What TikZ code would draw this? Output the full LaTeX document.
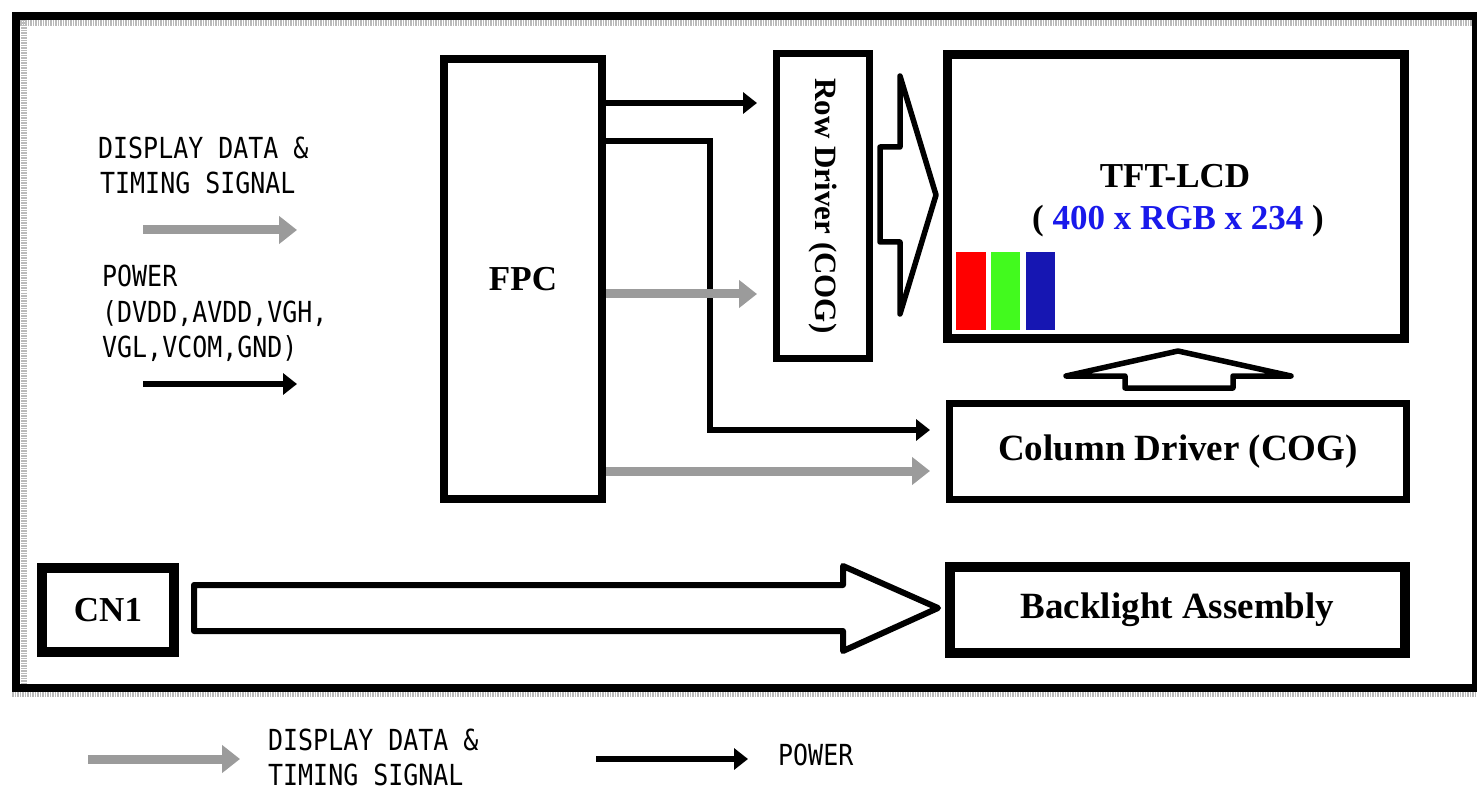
\documentclass[tikz,border=0pt]{standalone}
\usepackage{fontspec}
\usepackage{graphicx}
\setmainfont{Liberation Serif}
\newfontfamily\monolabel{DejaVu Sans Mono}
\usetikzlibrary{arrows.meta}

\definecolor{sigGray}{RGB}{155,155,155}
\definecolor{dimBlue}{RGB}{25,25,235}
\definecolor{barRed}{RGB}{255,0,0}
\definecolor{barGreen}{RGB}{66,250,30}
\definecolor{barBlue}{RGB}{22,22,178}

\newcommand\narrowtxt[1]{\scalebox{0.86}[1]{#1}}

\tikzset{
  sig/.style={draw=sigGray, line width=9pt, -{Triangle[length=18pt,width=27pt]}},
  pwr/.style={draw=black, line width=6pt, -{Triangle[length=14pt,width=21pt]}},
  block/.style={draw, rectangle, inner sep=0pt, fill=white},
  hollow/.style={draw, line width=5.5pt, fill=white, line join=round},
  mono/.style={anchor=base west, inner sep=0pt, font=\monolabel\fontsize{29}{35}\selectfont},
  title/.style={font=\bfseries\fontsize{35}{42}\selectfont},
  wtitle/.style={font=\bfseries\fontsize{37}{44}\selectfont},
}

\begin{document}
\begin{tikzpicture}[x=1pt, y=-1pt]
\useasboundingbox[fill=white] (0,0) rectangle (1477,791);

% outer frame with its grey shading band
\draw[line width=8pt] (16,16) rectangle (1476,688);
\draw[gray!55, line width=6pt, dash pattern=on 1.5pt off 1pt] (20,23) -- (1472,23);
\draw[gray!55, line width=6pt, dash pattern=on 1.5pt off 1pt] (23.5,20) -- (23.5,684);
\draw[gray!55, line width=5pt, dash pattern=on 1.5pt off 1pt] (12,694.5) -- (1477,694.5);

% input labels
\node[mono] (ddA) at (98,159) {\narrowtxt{DISPLAY DATA \&}};
\node[mono] (ddB) at (100,194) {\narrowtxt{TIMING SIGNAL}};
\coordinate (sigA) at (143,230);
\coordinate (sigB) at (297,230);
\draw[sig] (sigA) -- (sigB);
\node[mono] (pwA) at (102,287) {\narrowtxt{POWER}};
\node[mono] (pwB) at (102,323) {\narrowtxt{(DVDD,AVDD,VGH,}};
\node[mono] (pwC) at (102,358) {\narrowtxt{VGL,VCOM,GND)}};
\coordinate (pwrA) at (143,384);
\coordinate (pwrB) at (297,384);
\draw[pwr] (pwrA) -- (pwrB);

% blocks
\node[block, line width=8pt, minimum width=158pt, minimum height=440pt, title] (fpc) at (523,279) {FPC};
\node[block, line width=7pt, minimum width=93pt, minimum height=305pt, font=\bfseries\fontsize{31}{38}\selectfont] (row) at (823,206) {\rotatebox{-90}{Row Driver (COG)}};
\node[block, line width=9pt, minimum width=457pt, minimum height=284pt] (tft) at (1176,196.5) {};
\node[block, line width=7pt, minimum width=457pt, minimum height=96pt, wtitle] (col) at (1178,451.5) {Column Driver (COG)};
\node[block, line width=10pt, minimum width=132pt, minimum height=84pt, title] (cn) at (108,610) {CN1};
\node[block, line width=10pt, minimum width=455pt, minimum height=86pt, wtitle] (bl) at (1177.5,610) {Backlight Assembly};

% panel caption and sub-pixel bars
\node[anchor=base, inner sep=0pt, title] (tftname) at (1175,188) {TFT-LCD};
\node[anchor=base, inner sep=0pt, title] (tftres) at (1178,230) {( \textcolor{dimBlue}{400 x RGB x 234} )};
\fill[barRed] (956,252) rectangle (986,330);
\fill[barGreen] (991,252) rectangle (1020,330);
\fill[barBlue] (1026,252) rectangle (1055,330);

% signal and power lines from the FPC
\coordinate (y103) at (0,103);
\coordinate (y141) at (0,141);
\coordinate (y294) at (0,294);
\coordinate (y471) at (0,471);
\coordinate (bend) at (710,430);
\draw[pwr, shorten >=16pt] (fpc.east |- y103) -- (row.west |- y103);
\draw[pwr, shorten >=16pt] (fpc.east |- y141) -| (bend) -- (col.west |- bend);
\draw[sig, shorten >=16pt] (fpc.east |- y294) -- (row.west |- y294);
\draw[sig, shorten >=16pt] (fpc.east |- y471) -- (col.west |- y471);

% block arrows
\draw[hollow] (880,147) -- (900,147) -- (900,76) -- (936,195) -- (900,314) -- (900,242) -- (880,242) -- cycle;
\draw[hollow] (1178,351) -- (1291,376) -- (1233,376) -- (1233,388) -- (1125,388) -- (1125,376) -- (1066,376) -- cycle;
\draw[hollow, line width=6pt] (194,585) -- (843,585) -- (843,566) -- (938,608) -- (843,651) -- (843,631) -- (194,631) -- cycle;

% legend
\coordinate (lsA) at (88,759);
\coordinate (lsB) at (240,759);
\draw[sig] (lsA) -- (lsB);
\node[mono] (lgA) at (268,750) {\narrowtxt{DISPLAY DATA \&}};
\node[mono] (lgB) at (268,785) {\narrowtxt{TIMING SIGNAL}};
\coordinate (lpA) at (596,759);
\coordinate (lpB) at (748,759);
\draw[pwr] (lpA) -- (lpB);
\node[mono] (lgC) at (778,765) {\narrowtxt{POWER}};
\end{tikzpicture}
\end{document}
